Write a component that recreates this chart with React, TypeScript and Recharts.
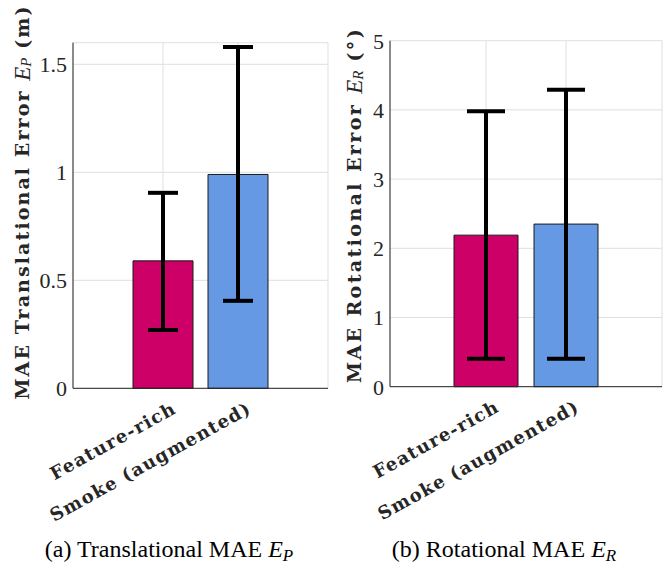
import { BarChart, Bar, Cell, XAxis, YAxis, CartesianGrid, ErrorBar } from 'recharts'

const categories = ['Feature-rich', 'Smoke (augmented)']
const barColors = ['#cc0066', '#6699e3']

// translational MAE (m): mean, lower and upper end of the whisker
const transMean = [0.59, 0.99]
const transLow = [0.27, 0.405]
const transHigh = [0.905, 1.58]
const transTicks = [0, 0.5, 1, 1.5]

// rotational MAE (deg)
const rotMean = [2.19, 2.35]
const rotLow = [0.405, 0.405]
const rotHigh = [3.98, 4.29]
const rotTicks = [0, 1, 2, 3, 4, 5]

const serif = '"Liberation Serif", "Times New Roman", serif'
const boldSerif = '"DejaVu Serif", serif'
const axisColor = '#262626'

function buildRows(mean: number[], low: number[], high: number[]) {
  return categories.map((name, i) => ({
    name,
    value: mean[i],
    err: [mean[i] - low[i], high[i] - mean[i]],
  }))
}

const transData = buildRows(transMean, transLow, transHigh)
const rotData = buildRows(rotMean, rotLow, rotHigh)

function XTick(props: any) {
  const { x, y, payload } = props
  const ax = x + 8
  const ay = y + 12
  return (
    <text
      x={ax}
      y={ay}
      transform={`rotate(-29, ${ax}, ${ay})`}
      textAnchor="end"
      dominantBaseline="hanging"
      fontFamily={boldSerif}
      fontWeight="bold"
      fontSize={18}
      letterSpacing={1.3}
      fill={axisColor}
    >
      {payload.value}
    </text>
  )
}

type PanelProps = {
  data: { name: string; value: number; err: number[] }[]
  domain: [number, number]
  ticks: number[]
  width: number
  height: number
  top: number
  right: number
  yAxisWidth: number
  xAxisHeight: number
  pad: number
  cap: number
}

function Panel({ data, domain, ticks, width, height, top, right, yAxisWidth, xAxisHeight, pad, cap }: PanelProps) {
  return (
    <BarChart
      width={width}
      height={height}
      data={data}
      margin={{ top, right, left: 0, bottom: 0 }}
      barCategoryGap="10%"
    >
      <CartesianGrid stroke="#dfdfdf" strokeWidth={1} />
      <XAxis
        dataKey="name"
        height={xAxisHeight}
        padding={{ left: pad, right: pad }}
        tickSize={0}
        tickMargin={0}
        tick={<XTick />}
        stroke={axisColor}
        interval={0}
      />
      <YAxis
        type="number"
        domain={domain}
        ticks={ticks}
        width={yAxisWidth}
        tickSize={0}
        tickMargin={6}
        stroke={axisColor}
        tick={{ fontFamily: serif, fontSize: 22, fill: axisColor }}
      />
      <Bar dataKey="value" stroke="#1a1a1a" strokeWidth={1} isAnimationActive={false}>
        {data.map((_, i) => (
          <Cell key={i} fill={barColors[i]} />
        ))}
        <ErrorBar dataKey="err" width={cap} strokeWidth={4} stroke="#000" direction="y" isAnimationActive={false} />
      </Bar>
    </BarChart>
  )
}

export default function App() {
  return (
    <div style={{ position: 'absolute', left: 0, top: 0, width: 663, height: 564, background: '#fff' }}>
      <div style={{ position: 'absolute', left: 0, top: 0 }}>
        <Panel
          data={transData}
          domain={[0, 1.6]}
          ticks={transTicks}
          width={332}
          height={530}
          top={42.7}
          right={4}
          yAxisWidth={73}
          xAxisHeight={141.7}
          pad={52.5}
          cap={15}
        />
      </div>
      <div style={{ position: 'absolute', left: 330, top: 0 }}>
        <Panel
          data={rotData}
          domain={[0, 5]}
          ticks={rotTicks}
          width={333}
          height={530}
          top={40.7}
          right={1}
          yAxisWidth={60}
          xAxisHeight={143.3}
          pad={56}
          cap={19}
        />
      </div>
      <svg width={663} height={564} style={{ position: 'absolute', left: 0, top: 0, pointerEvents: 'none' }}>
        <text
          transform="translate(22, 202) rotate(-90)"
          textAnchor="middle"
          dominantBaseline="central"
          fontFamily={boldSerif}
          fontWeight="bold"
          fontSize={19}
          letterSpacing={2.1}
          fill={axisColor}
        >
          <tspan>MAE Translational Error </tspan>
          <tspan fontFamily={serif} fontStyle="italic" fontWeight="normal" fontSize={23} letterSpacing={0}>E</tspan>
          <tspan fontFamily={serif} fontStyle="italic" fontWeight="normal" fontSize={15} letterSpacing={0} dy={4}>P</tspan>
          <tspan dy={-4}> (m)</tspan>
        </text>
        <text
          transform="translate(354, 205) rotate(-90)"
          textAnchor="middle"
          dominantBaseline="central"
          fontFamily={boldSerif}
          fontWeight="bold"
          fontSize={19}
          letterSpacing={2.4}
          fill={axisColor}
        >
          <tspan>MAE Rotational Error </tspan>
          <tspan fontFamily={serif} fontStyle="italic" fontWeight="normal" fontSize={23} letterSpacing={0}>E</tspan>
          <tspan fontFamily={serif} fontStyle="italic" fontWeight="normal" fontSize={15} letterSpacing={0} dy={4}>R</tspan>
          <tspan dy={-4}> (°)</tspan>
        </text>
        <text x={169} y={557} textAnchor="middle" fontFamily={serif} fontSize={24} fill="#000">
          <tspan>(a) Translational MAE </tspan>
          <tspan fontStyle="italic">E</tspan>
          <tspan fontStyle="italic" fontSize={17} dy={4}>P</tspan>
        </text>
        <text x={504} y={557} textAnchor="middle" fontFamily={serif} fontSize={24} fill="#000">
          <tspan>(b) Rotational MAE </tspan>
          <tspan fontStyle="italic">E</tspan>
          <tspan fontStyle="italic" fontSize={17} dy={4}>R</tspan>
        </text>
      </svg>
    </div>
  )
}
